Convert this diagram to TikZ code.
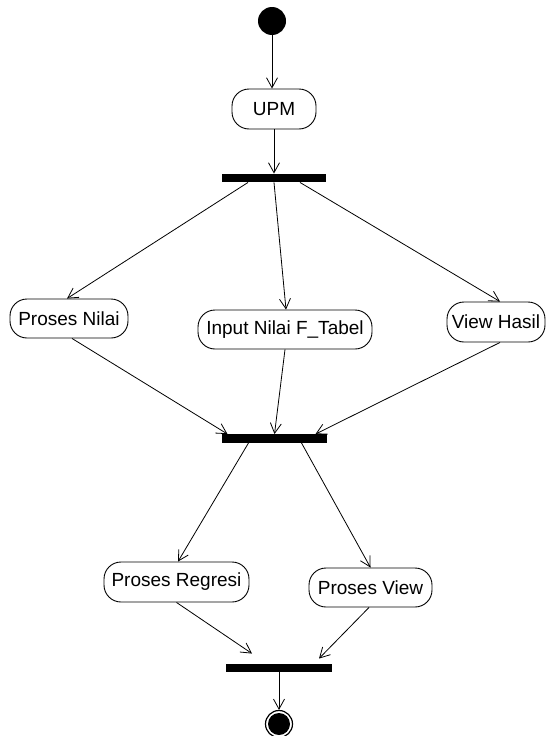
\documentclass[tikz,border=0pt]{standalone}
\usepackage{fontspec}
\setmainfont{Liberation Sans}
\usetikzlibrary{arrows.meta}
\begin{document}
\begin{tikzpicture}[x=1pt,y=-1pt,
  act/.style={draw, line width=0.9pt, rounded corners=17pt, inner sep=0pt,
    font=\fontsize{19}{22}\selectfont},
  bar/.style={fill=black, draw=none, inner sep=0pt, minimum height=8.5pt},
  arr/.style={line width=0.8pt, -{Straight Barb[length=10pt,width=11pt,line width=0.8pt]}},
  startnode/.style={circle, fill=black, minimum size=28pt, inner sep=0pt},
  endnode/.style={circle, draw, line width=1.2pt, minimum size=27pt, inner sep=0pt}]
\useasboundingbox (0,0) rectangle (546,736);
\node[startnode] (start) at (272,21) {};
\node[act, minimum width=84pt, minimum height=40pt] (upm) at (274,109) {UPM};
\node[bar, minimum width=104pt] (fork1) at (274,178) {};
\node[act, minimum width=118pt, minimum height=39pt] (pn) at (69,318.5) {Proses Nilai};
\node[act, minimum width=174pt, minimum height=39pt] (inp) at (285,329.5) {Input Nilai F\_Tabel};
\node[act, minimum width=98pt, minimum height=40pt] (vh) at (496,322) {View Hasil};
\node[bar, minimum width=105pt] (join1) at (274.5,438.5) {};
\node[act, minimum width=145pt, minimum height=40pt] (pr) at (176.5,582) {Proses Regresi};
\node[act, minimum width=123pt, minimum height=39pt] (pv) at (370.5,587.5) {Proses View};
\node[bar, minimum width=106pt] (join2) at (279,668) {};
\node[endnode] (end) at (279,724) {};
\fill (end.center) circle (11pt);

\draw[arr] (start.south) -- ([xshift=-2pt]upm.north);
\draw[arr] (upm.south) -- (fork1.north);
\draw[arr] ([xshift=-26pt]fork1.south) -- ([xshift=-2pt]pn.north);
\draw[arr] (fork1.south) -- ([xshift=1pt]inp.north);
\draw[arr] ([xshift=26pt]fork1.south) -- ([xshift=4pt]vh.north);
\draw[arr] ([xshift=3pt]pn.south) -- ([xshift=-47pt]join1.north);
\draw[arr] (inp.south) -- (join1.north);
\draw[arr] ([xshift=4pt]vh.south) -- ([xshift=41pt]join1.north);
\draw[arr] ([xshift=-26pt]join1.south) -- ([xshift=1.5pt]pr.north);
\draw[arr] ([xshift=27pt]join1.south) -- (pv.north);
\draw[arr] (pr.south) -- ([xshift=-27pt,yshift=10pt]join2.north);
\draw[arr] ([xshift=-1.5pt]pv.south) -- ([xshift=40pt,yshift=5pt]join2.north);
\draw[arr] (join2.south) -- (end.north);
\end{tikzpicture}
\end{document}
